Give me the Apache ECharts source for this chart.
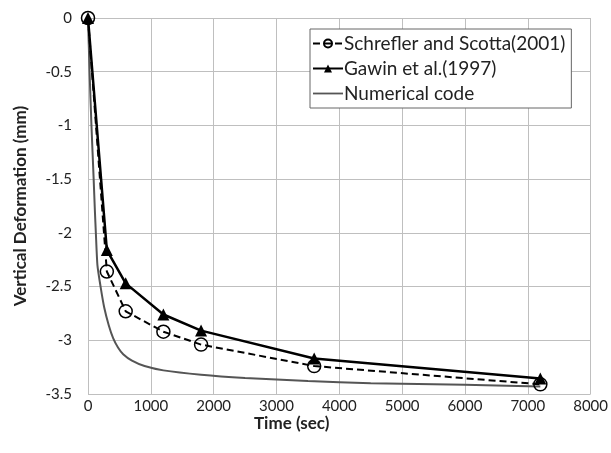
<!DOCTYPE html>
<html>
<head>
<meta charset="utf-8">
<script src="https://cdn.jsdelivr.net/npm/echarts@6/dist/echarts.min.js"></script>
<style>html,body{margin:0;padding:0;background:#fff}#c{width:611px;height:453px}</style>
</head>
<body>
<div id="c"></div>
<script>
// Data
const seriesNames = ['Schrefler and Scotta(2001)', 'Gawin et al.(1997)', 'Numerical code'];
const schreflerTime = [0, 300, 600, 1200, 1800, 3600, 7200];
const schreflerDef  = [0, -2.36, -2.73, -2.92, -3.04, -3.24, -3.41];
const gawinTime = [0, 300, 600, 1200, 1800, 3600, 7200];
const gawinDef  = [0, -2.16, -2.47, -2.76, -2.91, -3.17, -3.355];
const numTime = [0, 25, 55, 90, 110, 125, 150, 200, 260, 330, 400, 480, 560, 700, 900, 1200, 1800, 2500, 3500, 4500, 5500, 6500, 7200];
const numDef  = [0, -0.5, -1.0, -1.5, -1.8, -2.0, -2.3, -2.5, -2.7, -2.86, -2.98, -3.07, -3.13, -3.19, -3.24, -3.28, -3.32, -3.35, -3.38, -3.40, -3.41, -3.42, -3.43];
const xTicks = {min: 0, max: 8000, interval: 1000};
const yTicks = {min: -3.5, max: 0, interval: 0.5};

const zip = (a, b) => a.map((v, i) => [v, b[i]]);
const FONT = 'Lato';
const chart = echarts.init(document.getElementById('c'), null, {renderer: 'canvas'});
chart.setOption({
  animation: false,
  backgroundColor: '#fff',
  grid: {left: 88, right: 18, top: 18, bottom: 59},
  xAxis: {
    type: 'value', min: xTicks.min, max: xTicks.max, interval: xTicks.interval,
    axisLine: {show: true, lineStyle: {color: '#bfbfbf', width: 1}},
    axisTick: {show: false},
    splitLine: {show: true, lineStyle: {color: '#bfbfbf', width: 1}},
    axisLabel: {color: '#222', fontFamily: FONT, fontSize: 15, margin: 5, formatter: v => String(v)}
  },
  yAxis: {
    type: 'value', min: yTicks.min, max: yTicks.max, interval: yTicks.interval,
    name: 'Vertical Deformation (mm)', nameLocation: 'middle', nameGap: 59,
    nameTextStyle: {color: '#222', fontFamily: FONT, fontSize: 17, fontWeight: 'bold'},
    axisLine: {show: true, lineStyle: {color: '#bfbfbf', width: 1}},
    axisTick: {show: false},
    splitLine: {show: true, lineStyle: {color: '#bfbfbf', width: 1}},
    axisLabel: {color: '#222', fontFamily: FONT, fontSize: 15, margin: 16, formatter: v => String(v)}
  },
  graphic: [{
    type: 'text', left: 254, top: 415,
    style: {text: 'Time (sec)', fill: '#222', font: 'bold 17px Lato'}
  }],
  legend: {
    orient: 'vertical', left: 310, top: 29,
    data: [
      {name: seriesNames[0]},
      {name: seriesNames[1]},
      {name: seriesNames[2], icon: 'path://M0,0M0,4.1H30V5.9H0ZM30,10', itemStyle: {color: '#555'}}
    ],
    backgroundColor: '#fff', borderColor: '#666', borderWidth: 1,
    padding: [5, 6, 5, 2], itemGap: 6, itemWidth: 30, itemHeight: 10,
    textStyle: {color: '#222', fontFamily: FONT, fontSize: 19, padding: [0, 0, 0, -4]}
  },
  series: [
    {
      name: seriesNames[2], type: 'line', data: zip(numTime, numDef),
      showSymbol: false, symbol: 'none', smooth: 0.2, z: 2,
      lineStyle: {color: '#555', width: 2}, itemStyle: {color: '#555'}
    },
    {
      name: seriesNames[1], type: 'line', data: zip(gawinTime, gawinDef),
      symbol: 'triangle', symbolSize: 12, z: 3,
      lineStyle: {color: '#000', width: 2.5}, itemStyle: {color: '#000'}
    },
    {
      name: seriesNames[0], type: 'line', data: zip(schreflerTime, schreflerDef),
      symbol: 'circle', symbolSize: 13, z: 4,
      lineStyle: {color: '#000', width: 2, type: [7, 4]},
      itemStyle: {color: 'rgba(255,255,255,0)', borderColor: '#000', borderWidth: 1.5}
    }
  ]
});
</script>
</body>
</html>
